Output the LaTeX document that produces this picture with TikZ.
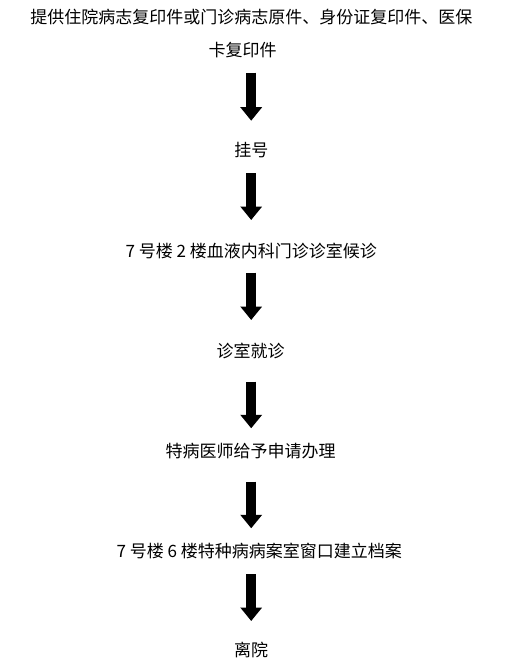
\documentclass[tikz,border=0pt]{standalone}
\usepackage{fontspec}
\newfontfamily\cjk{Noto Sans CJK SC}
\usetikzlibrary{arrows.meta}
\tikzset{
  lbl/.style={font=\cjk\fontsize{17}{20}\selectfont, anchor=base, inner sep=0pt, text=black},
  blk/.style={line width=9.5pt, -{Triangle[width=21pt,length=13.5pt]}, black}
}
\begin{document}
\begin{tikzpicture}[x=1pt,y=1pt]
\useasboundingbox[fill=white] (0,0) rectangle (520,-664);
\node[lbl] (t1a) at (251.3,-23.5) {提供住院病志复印件或门诊病志原件、身份证复印件、医保};
\node[lbl] (t1b) at (242.7,-56.8) {卡复印件};
\node[lbl] (t2) at (251.3,-156.5) {挂号};
\node[lbl] (t3) at (251.2,-257.3) {7 号楼 2 楼血液内科门诊诊室候诊};
\node[lbl] (t4) at (250.5,-357) {诊室就诊};
\node[lbl] (t5) at (250.5,-457) {特病医师给予申请办理};
\node[lbl] (t6) at (259.2,-557.3) {7 号楼 6 楼特种病病案室窗口建立档案};
\node[lbl] (t7) at (251,-656.5) {离院};
\coordinate (a1s) at (251.2,-72.7);  \coordinate (a1e) at (251.2,-120.7);
\coordinate (a2s) at (251.2,-173.3); \coordinate (a2e) at (251.2,-220);
\coordinate (a3s) at (251.2,-272.7); \coordinate (a3e) at (251.2,-320);
\coordinate (a4s) at (251.2,-381.7); \coordinate (a4e) at (251.2,-428.3);
\coordinate (a5s) at (251.2,-481.7); \coordinate (a5e) at (251.2,-528.3);
\coordinate (a6s) at (251.2,-574.3); \coordinate (a6e) at (251.2,-621);
\draw[blk] (a1s) -- (a1e);
\draw[blk] (a2s) -- (a2e);
\draw[blk] (a3s) -- (a3e);
\draw[blk] (a4s) -- (a4e);
\draw[blk] (a5s) -- (a5e);
\draw[blk] (a6s) -- (a6e);
\end{tikzpicture}
\end{document}
